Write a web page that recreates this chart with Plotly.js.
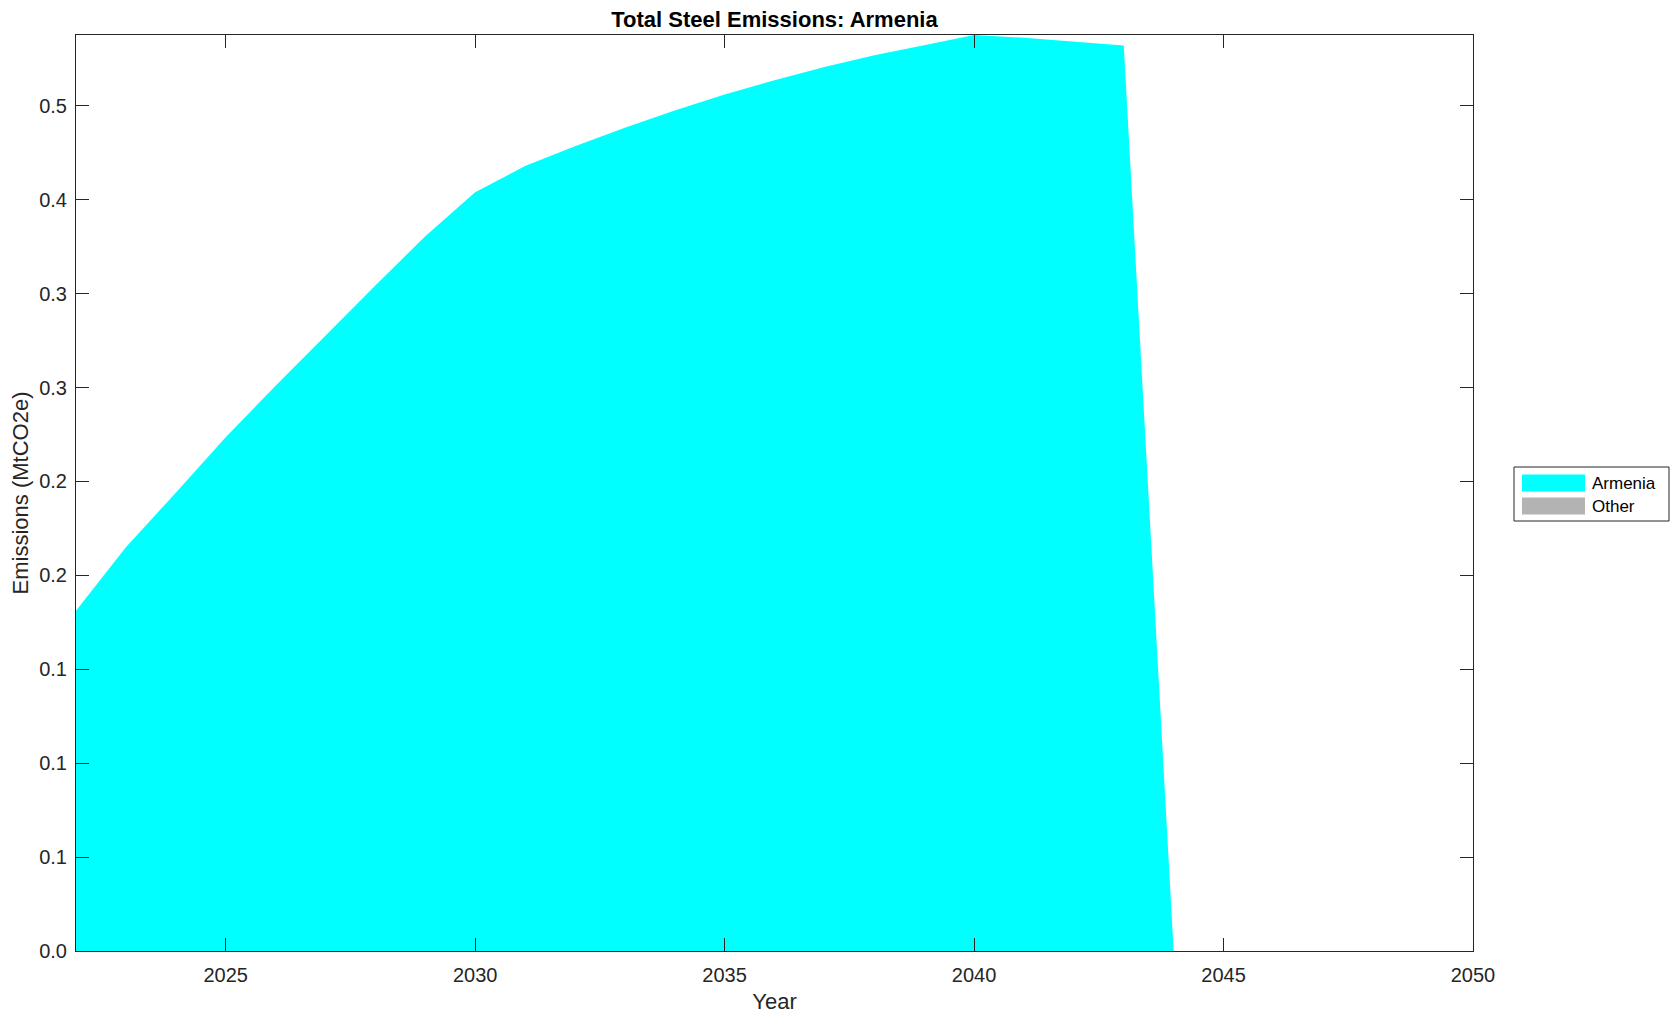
<!DOCTYPE html>
<html>
<head>
<meta charset="utf-8">
<script src="https://cdn.plot.ly/plotly-3.0.1.min.js"></script>
<style>
  html, body { margin: 0; padding: 0; background: #ffffff; }
  #chart { width: 1680px; height: 1021px; }
</style>
</head>
<body>
<div id="chart"></div>
<script>
// ---- data ----
const years = [2022, 2023, 2024, 2025, 2026, 2027, 2028, 2029, 2030, 2031,
               2032, 2033, 2034, 2035, 2036, 2037, 2038, 2039, 2040, 2041,
               2042, 2043, 2044, 2045, 2046, 2047, 2048, 2049, 2050];
const armenia = [0.1812, 0.2149, 0.2440, 0.2735, 0.3010, 0.3278, 0.3543, 0.3806, 0.4040, 0.4179,
                 0.4285, 0.4383, 0.4475, 0.4560, 0.4636, 0.4707, 0.4769, 0.4822, 0.4877, 0.4862,
                 0.4843, 0.4821, 0, 0, 0, 0, 0, 0, 0];
const other = [0, 0, 0, 0, 0, 0, 0, 0, 0, 0,
               0, 0, 0, 0, 0, 0, 0, 0, 0, 0,
               0, 0, 0, 0, 0, 0, 0, 0, 0];
const seriesNames = ['Armenia', 'Other'];
const xTickVals = [2025, 2030, 2035, 2040, 2045, 2050];
const xTickText = ['2025', '2030', '2035', '2040', '2045', '2050'];
const yTickVals = [0, 0.05, 0.10, 0.15, 0.20, 0.25, 0.30, 0.35, 0.40, 0.45];
const yTickText = ['0.0', '0.1', '0.1', '0.1', '0.2', '0.2', '0.3', '0.3', '0.4', '0.5'];
const chartTitle = 'Total Steel Emissions: Armenia';
const xTitle = 'Year';
const yTitle = 'Emissions (MtCO2e)';

// ---- style ----
const colors = ['#00ffff', '#b3b3b3'];
const FONT = '"Liberation Sans", Arial, Helvetica, sans-serif';
const AX = '#262626';
const W = 1680, H = 1021;
const M = { l: 76, r: 207, t: 35, b: 70 };
const PW = W - M.l - M.r, PH = H - M.t - M.b;
const px2x = p => (p - M.l) / PW;
const px2y = p => (H - M.b - p) / PH;

const seriesData = [armenia, other];
const traces = seriesData.map((vals, i) => ({
  type: 'scatter',
  mode: 'lines',
  x: years,
  y: vals,
  name: seriesNames[i],
  stackgroup: 'one',
  line: { width: 0, color: colors[i] },
  fillcolor: colors[i],
  showlegend: false,
  hoverinfo: 'x+y+name'
}));

const yMax = Math.max(...armenia.map((v, i) => v + other[i]));

// custom legend (box, swatches, labels)
const legBox = { x0: 1514, y0: 467, x1: 1669, y1: 521 };
const rows = [483, 506];
const shapes = [
  { type: 'rect', xref: 'paper', yref: 'paper',
    x0: px2x(legBox.x0), x1: px2x(legBox.x1), y0: px2y(legBox.y1), y1: px2y(legBox.y0),
    line: { color: AX, width: 1 }, fillcolor: '#ffffff' }
];
const annotations = [];
seriesNames.forEach((nm, i) => {
  shapes.push({ type: 'rect', xref: 'paper', yref: 'paper',
    x0: px2x(1522), x1: px2x(1585), y0: px2y(rows[i] + 8.5), y1: px2y(rows[i] - 8.5),
    line: { width: 0 }, fillcolor: colors[i] });
  annotations.push({ xref: 'paper', yref: 'paper', x: px2x(1590), y: px2y(rows[i]),
    xanchor: 'left', yanchor: 'middle', showarrow: false, text: nm,
    font: { family: FONT, size: 17, color: '#000000' } });
});

const layout = {
  width: W, height: H,
  margin: M,
  paper_bgcolor: '#ffffff',
  plot_bgcolor: '#ffffff',
  showlegend: false,
  font: { family: FONT, size: 20, color: AX },
  title: {
    text: '<b>' + chartTitle + '</b>',
    font: { family: FONT, size: 22, color: '#000000' },
    x: 0.5, xref: 'paper', xanchor: 'center',
    y: 1 - 19.5 / H, yref: 'container', yanchor: 'middle'
  },
  xaxis: {
    range: [2022, 2050],
    tickvals: xTickVals, ticktext: xTickText,
    ticks: 'inside', ticklen: 13, tickwidth: 1, tickcolor: AX,
    ticklabelstandoff: 6,
    showline: true, linecolor: AX, linewidth: 1, mirror: 'ticks',
    showgrid: false, zeroline: false,
    tickfont: { family: FONT, size: 20, color: AX },
    title: { text: xTitle, font: { family: FONT, size: 22, color: AX }, standoff: 8 }
  },
  yaxis: {
    range: [0, yMax],
    tickvals: yTickVals, ticktext: yTickText,
    ticks: 'inside', ticklen: 13, tickwidth: 1, tickcolor: AX,
    ticklabelstandoff: 4,
    showline: true, linecolor: AX, linewidth: 1, mirror: 'ticks',
    showgrid: false, zeroline: false,
    tickfont: { family: FONT, size: 20, color: AX },
    title: { text: yTitle, font: { family: FONT, size: 22, color: AX }, standoff: 4 }
  },
  shapes: shapes,
  annotations: annotations
};

Plotly.newPlot('chart', traces, layout, { displayModeBar: false, staticPlot: true });
</script>
</body>
</html>
